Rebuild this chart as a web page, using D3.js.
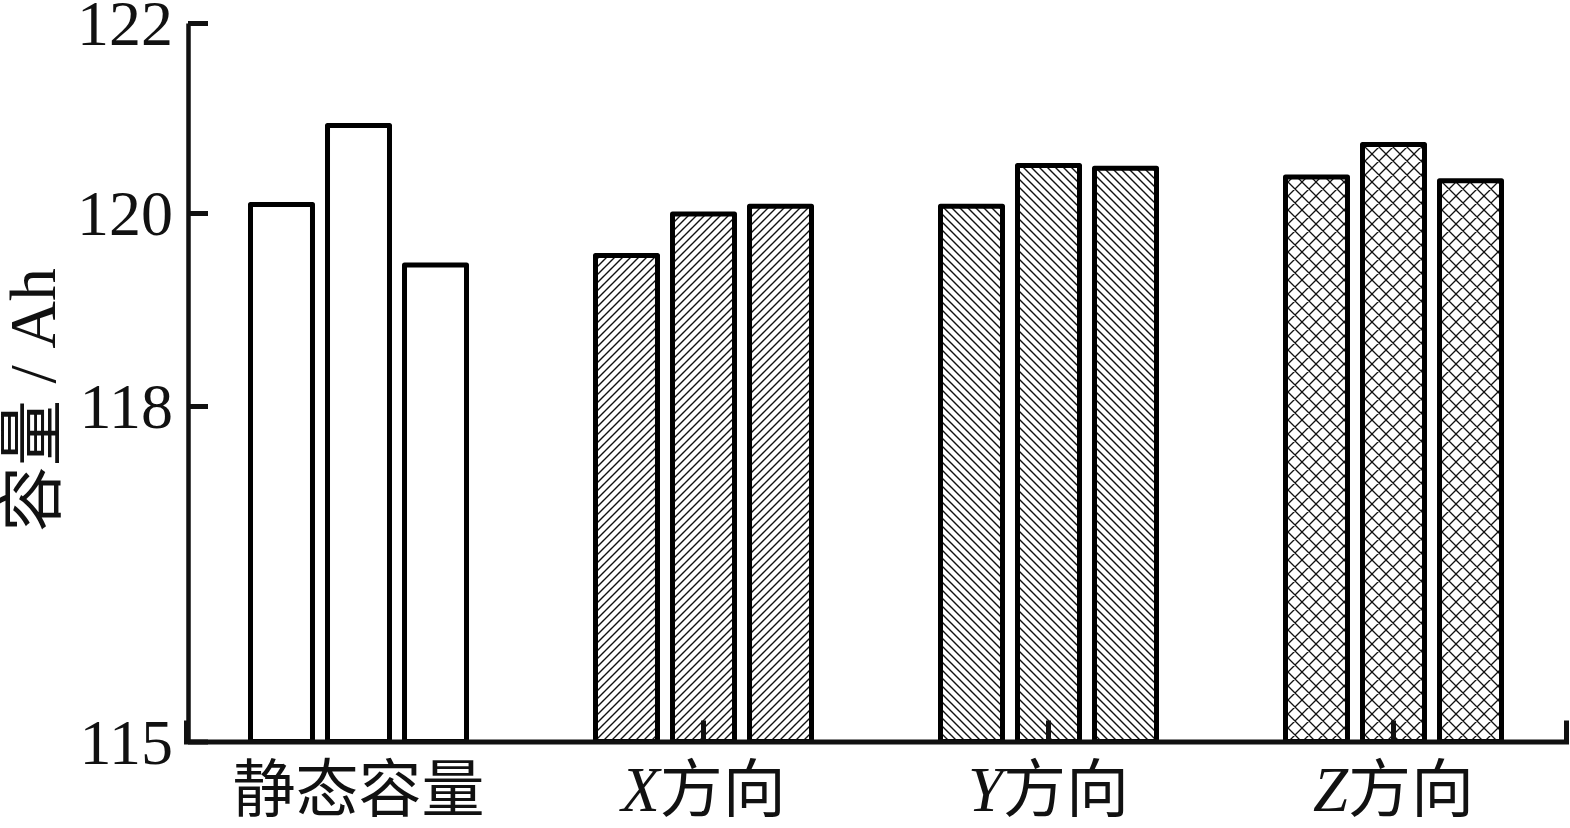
<!DOCTYPE html>
<html>
<head>
<meta charset="utf-8">
<script src="https://cdn.jsdelivr.net/npm/d3@7"></script>
<style>
  html, body { margin: 0; padding: 0; background: #fff; }
  svg { display: block; }
  text { font-family: 'Liberation Serif', 'Noto Sans CJK SC', serif; fill: #111; }
</style>
</head>
<body>
<svg id="chart" width="1570" height="828"></svg>
<script>
// ---- data ----
const categories = ["静态容量", "X方向", "Y方向", "Z方向"];
const categoryLetters = ["", "X", "Y", "Z"];
const categoryRest = ["静态容量", "方向", "方向", "方向"];
const seriesNames = ["s1", "s2", "s3"];
const series1 = [120.09, 119.56, 120.07, 120.38];
const series2 = [120.92, 119.99, 120.50, 120.72];
const series3 = [119.46, 120.07, 120.47, 120.34];
const yTicks = [115, 118, 120, 122];
const yLabel = "容量 / Ah";
const patternIds = ["pat-none", "pat-fwd", "pat-back", "pat-cross"];

const allSeries = [series1, series2, series3];

// ---- layout ----
const svg = d3.select("#chart");
const axisX = 188;
const baseY = 741.5;

// piecewise (broken) value axis as in the original
const y = d3.scaleLinear()
  .domain([115, 118, 120, 122])
  .range([baseY, 406, 213, 23]);

const x = d3.scaleBand()
  .domain(categories)
  .range([186, 1566])
  .padding(0);

const xInner = d3.scaleBand()
  .domain(seriesNames)
  .range([-108, 108])
  .paddingInner(0.195)
  .paddingOuter(0);

// ---- patterns ----
const defs = svg.append("defs");
defs.append("pattern").attr("id", "pat-none")
  .attr("patternUnits", "userSpaceOnUse").attr("width", 8).attr("height", 8)
  .append("rect").attr("width", 8).attr("height", 8).attr("fill", "#fff");

function hatch(id, size, d, sw) {
  const p = defs.append("pattern").attr("id", id)
    .attr("patternUnits", "userSpaceOnUse")
    .attr("width", size).attr("height", size);
  p.append("rect").attr("width", size).attr("height", size).attr("fill", "#fff");
  p.append("path").attr("d", d).attr("stroke", "#111")
    .attr("stroke-width", sw).attr("fill", "none");
}
hatch("pat-fwd", 8, "M-2,2 L2,-2 M0,8 L8,0 M6,10 L10,6", 1.4);
hatch("pat-back", 8, "M-2,6 L2,10 M0,0 L8,8 M6,-2 L10,2", 1.4);
hatch("pat-cross", 14,
  "M-3.5,3.5 L3.5,-3.5 M0,14 L14,0 M10.5,17.5 L17.5,10.5 " +
  "M-3.5,10.5 L3.5,17.5 M0,0 L14,14 M10.5,-3.5 L17.5,3.5", 1.3);

// ---- bars ----
const rows = [];
categories.forEach((c, ci) => {
  allSeries.forEach((s, si) => {
    rows.push({ cat: c, ci: ci, ser: seriesNames[si], value: s[ci] });
  });
});

svg.append("g").selectAll("rect")
  .data(rows)
  .join("rect")
  .attr("x", d => x(d.cat) + x.bandwidth() / 2 + xInner(d.ser))
  .attr("width", xInner.bandwidth())
  .attr("y", d => y(d.value))
  .attr("height", d => y(115) - y(d.value))
  .attr("fill", d => `url(#${patternIds[d.ci]})`)
  .attr("stroke", "#000")
  .attr("stroke-width", 5)
  .attr("stroke-linejoin", "round");

// ---- axes ----
const xAxis = d3.axisBottom(x)
  .tickValues(categories.slice(1))
  .tickSizeInner(-21)
  .tickSizeOuter(-21)
  .tickFormat("");
const gx = svg.append("g")
  .attr("transform", `translate(0,${baseY})`)
  .call(xAxis);
gx.select(".domain").attr("stroke", "#111").attr("stroke-width", 5).attr("fill", "none");
gx.selectAll(".tick line").attr("stroke", "#111").attr("stroke-width", 5);

const yAxis = d3.axisLeft(y)
  .tickValues(yTicks)
  .tickSizeInner(-20)
  .tickSizeOuter(0)
  .tickPadding(15)
  .tickFormat(d3.format("d"));
const gy = svg.append("g")
  .attr("transform", `translate(${axisX},0)`)
  .call(yAxis);
gy.select(".domain").attr("stroke", "#111").attr("stroke-width", 4.5);
gy.selectAll(".tick line").attr("stroke", "#111").attr("stroke-width", 5);
gy.selectAll(".tick text")
  .attr("font-size", 64)
  .attr("font-family", "'Liberation Serif', serif")
  .attr("fill", "#111")
  .attr("dy", "0.34em");

// ---- category labels ----
const labels = svg.append("g").selectAll("text")
  .data(categories)
  .join("text")
  .attr("x", d => x(d) + x.bandwidth() / 2)
  .attr("y", 811)
  .attr("text-anchor", "middle")
  .attr("font-size", 63);
labels.append("tspan")
  .attr("font-style", "italic")
  .attr("font-family", "'Liberation Serif', serif")
  .text((d, i) => categoryLetters[i]);
labels.append("tspan")
  .attr("font-family", "'Noto Sans CJK SC', sans-serif")
  .text((d, i) => categoryRest[i]);

// ---- y label ----
svg.append("text")
  .attr("transform", `translate(55,400) rotate(-90)`)
  .attr("text-anchor", "middle")
  .attr("font-size", 66)
  .text(yLabel);
</script>
</body>
</html>
